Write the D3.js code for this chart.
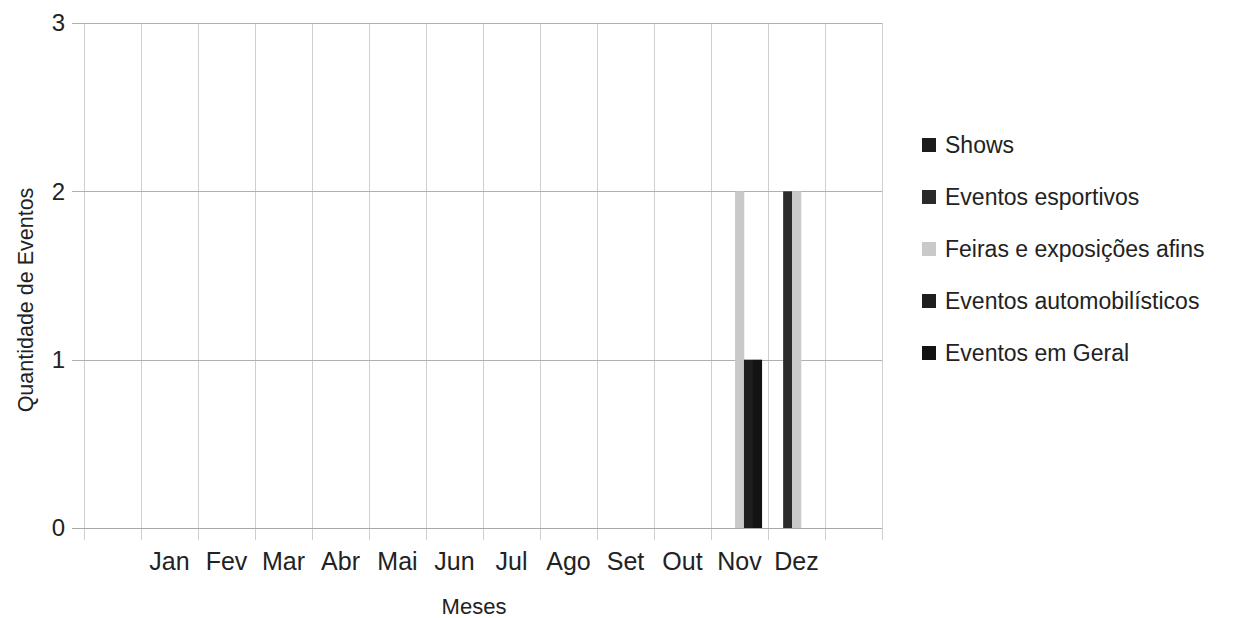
<!DOCTYPE html>
<html>
<head>
<meta charset="utf-8">
<script src="https://cdn.jsdelivr.net/npm/d3@7"></script>
<style>
  html, body { margin: 0; padding: 0; background: #fff; }
  svg { display: block; font-family: "Liberation Sans", Arial, sans-serif; }
</style>
</head>
<body>
<svg id="chart" width="1247" height="618"></svg>
<script>
// ---- data ----
const categories = ["", "Jan", "Fev", "Mar", "Abr", "Mai", "Jun", "Jul", "Ago", "Set", "Out", "Nov", "Dez", " "];
const seriesNames = ["Shows", "Eventos esportivos", "Feiras e exposições afins", "Eventos automobilísticos", "Eventos em Geral"];
const shows       = [0, 0, 0, 0, 0, 0, 0, 0, 0, 0, 0, 0, 0, 0];
const esportivos  = [0, 0, 0, 0, 0, 0, 0, 0, 0, 0, 0, 0, 2, 0];
const feiras      = [0, 0, 0, 0, 0, 0, 0, 0, 0, 0, 0, 2, 2, 0];
const automob     = [0, 0, 0, 0, 0, 0, 0, 0, 0, 0, 0, 1, 0, 0];
const geral       = [0, 0, 0, 0, 0, 0, 0, 0, 0, 0, 0, 1, 0, 0];
const yTicks = [0, 1, 2, 3];
const seriesColors = ["#1c1c1c", "#2a2a2a", "#c9c9c9", "#1e1e1e", "#131313"];

const seriesValues = [shows, esportivos, feiras, automob, geral];

// ---- layout ----
const svg = d3.select("#chart");
const plot = { left: 84, right: 882, top: 23, bottom: 528 };

const x0 = d3.scaleBand().domain(categories).range([plot.left, plot.right]).padding(0);
const x1 = d3.scaleBand().domain(seriesNames).range([0, x0.bandwidth()]).paddingInner(0).paddingOuter(0.7);
const y = d3.scaleLinear().domain([0, 3]).range([plot.bottom, plot.top]);
const color = d3.scaleOrdinal().domain(seriesNames).range(seriesColors);

// vertical gridlines at category boundaries (extend below axis as ticks)
const boundaries = categories.map(c => x0(c)).concat([x0(categories[categories.length - 1]) + x0.bandwidth()]);
svg.append("g").selectAll("line").data(boundaries).join("line")
  .attr("x1", d => Math.round(d) + 0.5).attr("x2", d => Math.round(d) + 0.5)
  .attr("y1", plot.top).attr("y2", plot.bottom + 12)
  .attr("stroke", "#cfcfcf").attr("stroke-width", 1);

// horizontal gridlines (extend left as ticks)
svg.append("g").selectAll("line").data(yTicks).join("line")
  .attr("x1", plot.left - 12).attr("x2", plot.right)
  .attr("y1", d => Math.round(y(d)) + 0.5).attr("y2", d => Math.round(y(d)) + 0.5)
  .attr("stroke", d => d === 0 ? "#a8a8a8" : "#b0b0b0").attr("stroke-width", 1);

// bars
const rows = categories.map((c, i) => ({ cat: c, vals: seriesNames.map((s, k) => ({ s, v: seriesValues[k][i] })) }));
svg.append("g").selectAll("g").data(rows).join("g")
  .attr("transform", d => `translate(${x0(d.cat)},0)`)
  .selectAll("rect").data(d => d.vals.filter(e => e.v > 0)).join("rect")
  .attr("x", d => x1(d.s))
  .attr("width", x1.bandwidth() + 0.3)
  .attr("y", d => y(d.v))
  .attr("height", d => y(0) - y(d.v))
  .attr("fill", d => color(d.s));

// y axis labels
const yAxis = svg.append("g").attr("transform", `translate(${plot.left - 19},0)`)
  .call(d3.axisLeft(y).tickValues(yTicks).tickSize(0).tickPadding(0).tickFormat(d3.format("d")));
yAxis.select(".domain").remove();
yAxis.selectAll("text").attr("font-size", 24).attr("fill", "#222").attr("font-family", "Liberation Sans, Arial, sans-serif");

// x axis labels
const xAxis = svg.append("g").attr("transform", `translate(0,${plot.bottom})`)
  .call(d3.axisBottom(x0).tickSize(0).tickPadding(24));
xAxis.select(".domain").remove();
xAxis.selectAll("text").attr("font-size", 25).attr("fill", "#222").attr("font-family", "Liberation Sans, Arial, sans-serif");

// axis titles
svg.append("text")
  .attr("transform", "translate(33,300) rotate(-90)")
  .attr("text-anchor", "middle")
  .attr("font-size", 21.5).attr("fill", "#222")
  .text("Quantidade de Eventos");

svg.append("text")
  .attr("x", 474).attr("y", 614)
  .attr("text-anchor", "middle")
  .attr("font-size", 22).attr("fill", "#222")
  .text("Meses");

// legend
const legend = svg.append("g").attr("transform", "translate(922,0)");
const lg = legend.selectAll("g").data(seriesNames).join("g")
  .attr("transform", (d, i) => `translate(0,${145 + i * 52})`);
lg.append("rect").attr("x", 0).attr("y", -7).attr("width", 14).attr("height", 14)
  .attr("fill", d => color(d));
lg.append("text").attr("x", 23).attr("y", 0).attr("dy", "0.35em")
  .attr("font-size", 23).attr("fill", "#222")
  .text(d => d);
</script>
</body>
</html>
